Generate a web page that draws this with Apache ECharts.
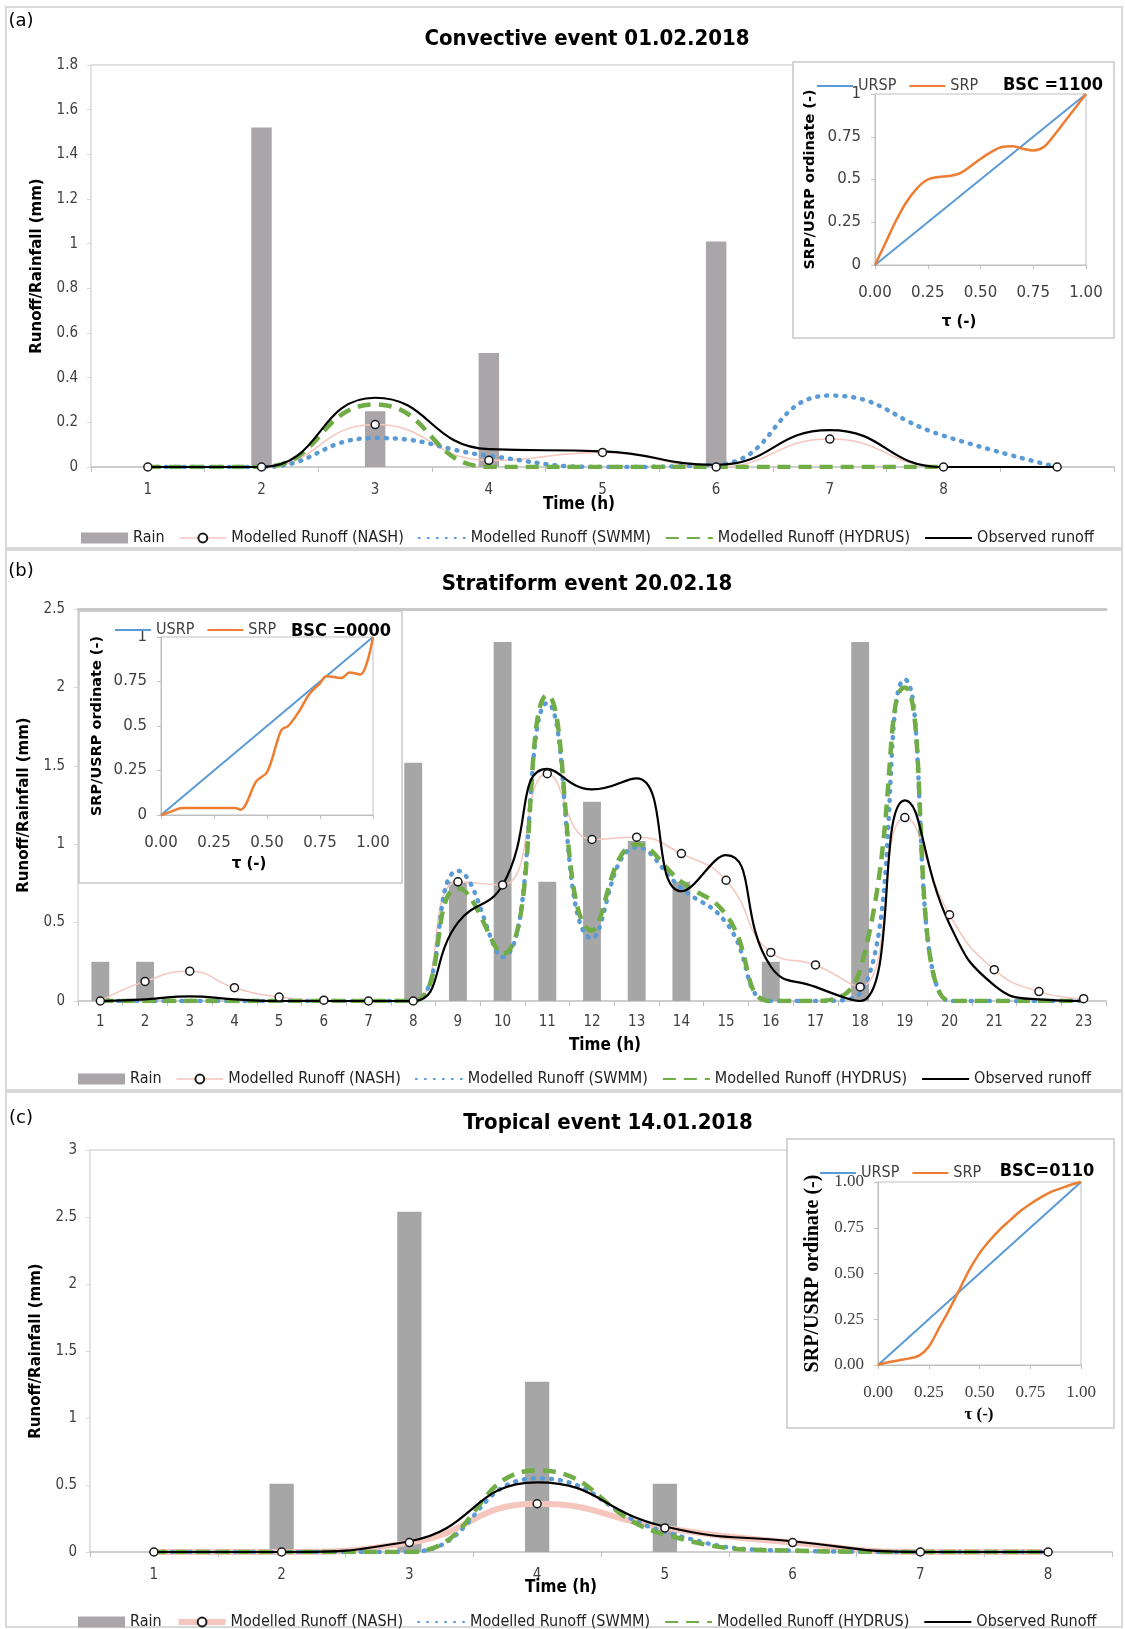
<!DOCTYPE html>
<html><head><meta charset="utf-8">
<script src="https://cdn.jsdelivr.net/npm/echarts@6/dist/echarts.min.js"></script>
<style>html,body{margin:0;padding:0;background:#fff}#c{width:1125px;height:1629px}</style>
</head><body><div id="c"></div>
<script>
// ---------- Panel (a): Convective event ----------
const hoursA = ['1','2','3','4','5','6','7','8',''];
const rainA   = [0,1.52,0.25,0.51,0,1.01,0,0,0];
const nashA   = [0,0,0.19,0.03,0.065,0,0.125,0,0];
const swmmA   = [0,0,0.13,0.05,0,0.01,0.32,0.14,0];
const hydrusA = [0,0,0.28,0,0,0,0,0,null];
const obsA    = [0,0,0.31,0.08,0.07,0.01,0.165,0,0];
const tauA = [0,0.05,0.1,0.15,0.2,0.25,0.3,0.35,0.4,0.45,0.5,0.55,0.6,0.65,0.7,0.75,0.8,0.85,0.9,0.95,1];
const srpA = [0,0.13,0.26,0.37,0.45,0.5,0.515,0.52,0.535,0.575,0.62,0.66,0.69,0.695,0.68,0.67,0.69,0.76,0.84,0.92,1];

// ---------- Panel (b): Stratiform event ----------
const hoursB = ['1','2','3','4','5','6','7','8','9','10','11','12','13','14','15','16','17','18','19','20','21','22','23'];
const rainB   = [0.25,0.25,0,0,0,0,0,1.52,0.76,2.29,0.76,1.27,1.02,0.76,0,0.25,0,2.29,0,0,0,0,0];
const nashB   = [0,0.125,0.19,0.085,0.025,0.005,0,0,0.76,0.74,1.45,1.03,1.045,0.94,0.77,0.31,0.23,0.09,1.17,0.55,0.2,0.06,0.015];
const swmmB   = [0,0,0,0,0,0,0,0,0.83,0.28,1.9,0.4,0.98,0.72,0.5,0,0,0.05,2.05,0,0,0,0];
const hydrusB = [0,0,0,0,0,0,0,0,0.72,0.3,1.95,0.45,1.0,0.76,0.55,0,0,0.2,2.0,0,0,0,0];
const obsB    = [0,0.01,0.03,0.01,0,0,0,0,0.5,0.74,1.48,1.35,1.42,0.7,0.93,0.22,0.09,0,1.28,0.49,0.1,0.01,0];
const tauB = [0,0.05,0.1,0.15,0.2,0.25,0.3,0.35,0.375,0.4,0.45,0.5,0.55,0.57,0.6,0.65,0.7,0.75,0.78,0.85,0.89,0.94,0.97,1];
const srpB = [0,0.02,0.04,0.04,0.04,0.04,0.04,0.04,0.03,0.06,0.19,0.24,0.42,0.48,0.5,0.58,0.68,0.74,0.78,0.77,0.8,0.79,0.85,1];

// ---------- Panel (c): Tropical event ----------
const hoursC = ['1','2','3','4','5','6','7','8'];
const rainC   = [0,0.51,2.54,1.27,0.51,0,0,0];
const nashC   = [0,0,0.07,0.36,0.18,0.07,0,0];
const swmmC   = [0,0,0,0.55,0.15,0.01,0,0];
const hydrusC = [0,0,0,0.61,0.13,0.01,0,0];
const obsC    = [0,0,0.08,0.52,0.19,0.08,0,0];
const tauC = [0,0.05,0.1,0.15,0.2,0.25,0.3,0.35,0.4,0.45,0.5,0.55,0.6,0.65,0.7,0.75,0.8,0.85,0.9,0.95,1];
const srpC = [0,0.015,0.025,0.035,0.05,0.1,0.2,0.3,0.41,0.52,0.61,0.68,0.74,0.79,0.84,0.88,0.915,0.945,0.965,0.985,1];

// uniform response (straight line end points)
const usrpTau = [0,1];
const usrpVal = [0,1];

const NARROW = "'Liberation Sans Narrow','Arial Narrow','DejaVu Sans Condensed',sans-serif";
const SANS = "'DejaVu Sans','Open Sans',sans-serif";
const SERIF = "'Liberation Serif','DejaVu Serif',serif";

const zip = (a,b) => a.map((v,i)=>[v,b[i]]);

const grids = [
  {left:91, top:65, width:1023, height:402},
  {left:875, top:94, width:211, height:171, show:true, borderColor:'#bfbfbf', borderWidth:1, z:4},
  {left:78, top:609, width:1028, height:392},
  {left:161, top:637, width:212, height:178, show:true, borderColor:'#bfbfbf', borderWidth:1, z:4},
  {left:90, top:1150, width:1022, height:402},
  {left:878, top:1182, width:203, height:183, show:true, borderColor:'#bfbfbf', borderWidth:1, z:4}
];

function catAxis(gi, cats, margin){
  return {type:'category', gridIndex:gi, data:cats, boundaryGap:true,
    axisLine:{lineStyle:{color:'#bfbfbf', width:1.5}},
    axisTick:{show:true, length:5, lineStyle:{color:'#bfbfbf'}},
    axisLabel:{margin:margin, fontSize:15, color:'#404040', fontFamily:NARROW, interval:0},
    splitLine:{show:false}};
}
function topAxis(gi, cats, w, col){
  return {type:'category', gridIndex:gi, data:cats, position:'top',
    axisLine:{show:true, lineStyle:{color:col, width:w}},
    axisTick:{show:false}, axisLabel:{show:false}, splitLine:{show:false}};
}
function insetX(gi, font, size, margin){
  return {type:'value', gridIndex:gi, min:0, max:1, interval:0.25, z:4,
    axisLine:{show:true, lineStyle:{color:'#bfbfbf'}},
    axisTick:{show:true, length:4, lineStyle:{color:'#bfbfbf'}},
    axisLabel:{margin:margin, fontSize:size, color:'#404040', fontFamily:font, formatter:v=>v.toFixed(2)},
    splitLine:{show:false}};
}
function insetY(gi, font, size, fixed, nameFont, nameSize, gap){
  return {type:'value', gridIndex:gi, min:0, max:1, interval:0.25, z:4,
    name:'SRP/USRP ordinate (-)', nameLocation:'middle', nameGap:gap,
    nameTextStyle:{fontFamily:nameFont, fontSize:nameSize, fontWeight:'bold', color:'#000'},
    axisLine:{show:true, lineStyle:{color:'#bfbfbf'}},
    axisTick:{show:true, length:4, lineStyle:{color:'#bfbfbf'}},
    axisLabel:{margin:14, fontSize:size, color:'#404040', fontFamily:font,
      formatter: v => fixed ? v.toFixed(2) : String(v)},
    splitLine:{show:false}};
}
function mainY(gi, max, intv){
  return {type:'value', gridIndex:gi, min:0, max:max, interval:intv,
    name:'Runoff/Rainfall (mm)', nameLocation:'middle', nameGap:46,
    nameTextStyle:{fontFamily:SANS, fontSize:15, fontWeight:'bold', color:'#000'},
    axisLine:{show:true, lineStyle:{color:'#d9d9d9', width:1.5}},
    axisTick:{show:true, length:4, lineStyle:{color:'#d9d9d9'}},
    axisLabel:{margin:13, fontSize:15, color:'#404040', fontFamily:NARROW,
      formatter: v => String(Math.round(v*10)/10)},
    splitLine:{show:false}};
}

function mainSeries(xi, yi, rain, nash, swmm, hydrus, obs, barW, rainCol, nashW, obsName){
  return [
    {type:'bar', name:'Rain', xAxisIndex:xi, yAxisIndex:yi, data:rain, barWidth:barW,
      itemStyle:{color:rainCol}, z:2},
    {type:'line', name:'Modelled Runoff (NASH)', xAxisIndex:xi, yAxisIndex:yi, data:nash, smooth:0.5,
      symbol:'circle', symbolSize:8, showAllSymbol:true,
      lineStyle:{color:'#f5c6bd', width:nashW},
      itemStyle:{color:'#ffffff', borderColor:'#1a1a1a', borderWidth:1.5}, z:2},
    {type:'line', name:'Modelled Runoff (SWMM)', xAxisIndex:xi, yAxisIndex:yi, data:swmm, smooth:0.5,
      symbol:'none', itemStyle:{color:'#5b9bd5'},
      lineStyle:{color:'#5b9bd5', width:4.5, type:[1,8], cap:'round'}, z:2},
    {type:'line', name:'Modelled Runoff (HYDRUS)', xAxisIndex:xi, yAxisIndex:yi, data:hydrus, smooth:0.5,
      symbol:'none', itemStyle:{color:'#70ad47'},
      lineStyle:{color:'#70ad47', width:4.5, type:[13,8]}, z:2},
    {type:'line', name:obsName, xAxisIndex:xi, yAxisIndex:yi, data:obs, smooth:0.5,
      symbol:'none', itemStyle:{color:'#000000'},
      lineStyle:{color:'#000000', width:2.2}, z:2}
  ];
}
function insetSeries(xi, yi, uname, tau, srp){
  return [
    {type:'line', name:uname, xAxisIndex:xi, yAxisIndex:yi, data:zip(usrpTau,usrpVal),
      symbol:'none', itemStyle:{color:'#5b9bd5'}, lineStyle:{color:'#5b9bd5', width:2}, z:5},
    {type:'line', name:'SRP', xAxisIndex:xi, yAxisIndex:yi, data:zip(tau,srp), smooth:0.35,
      symbol:'none', itemStyle:{color:'#ed7d31'}, lineStyle:{color:'#ed7d31', width:2.5}, z:5}
  ];
}

const noSym = {opacity:0};
function mainLegend(left, top, obsName, nashW){
  return {left:left, top:top, itemWidth:47, itemHeight:11, itemGap:14, z:6,
    textStyle:{fontFamily:NARROW, fontSize:16, color:'#222'},
    data:[{name:'Rain', icon:'rect'},
          {name:'Modelled Runoff (NASH)', lineStyle:{width:nashW}},
          {name:'Modelled Runoff (SWMM)', itemStyle:noSym},
          {name:'Modelled Runoff (HYDRUS)', itemStyle:noSym},
          {name:obsName, itemStyle:noSym}]};
}
function insetLegend(left, top, uname){
  return {left:left, top:top, itemWidth:36, itemHeight:10, itemGap:12, z:6,
    textStyle:{fontFamily:NARROW, fontSize:16, color:'#404040'},
    data:[{name:uname, itemStyle:noSym},{name:'SRP', itemStyle:noSym}]};
}

function txt(x,y,text,font,align){
  return {type:'text', x:x, y:y, z:7,
    style:{text:text, font:font, fill:'#000', align:align||'center', verticalAlign:'middle',
      textAlign:align||'center', textVerticalAlign:'middle'}};
}
function frame(x,y,w,h){
  return {type:'rect', shape:{x:x,y:y,width:w,height:h}, z:0, silent:true,
    style:{fill:'none', stroke:'#d9d9d9', lineWidth:2}};
}
function box(x,y,w,h){
  return {type:'rect', shape:{x:x,y:y,width:w,height:h}, z:3, silent:true,
    style:{fill:'#ffffff', stroke:'#c8c8c8', lineWidth:1.5}};
}

const option = {
  animation:false,
  backgroundColor:'#ffffff',
  grid: grids,
  xAxis:[
    catAxis(0,hoursA,16), topAxis(0,hoursA,1.5,'#d9d9d9'), insetX(1,SANS,15,21),
    catAxis(2,hoursB,14), topAxis(2,hoursB,3,'#c8c8c8'), insetX(3,SANS,15,21),
    catAxis(4,hoursC,16), topAxis(4,hoursC,1.5,'#d9d9d9'), insetX(5,SERIF,17,19)
  ],
  yAxis:[
    mainY(0,1.8,0.2), insetY(1,SANS,15,false,SANS,14.5,57),
    mainY(2,2.5,0.5), insetY(3,SANS,15,false,SANS,14.5,56),
    mainY(4,3,0.5), insetY(5,SERIF,17,true,SERIF,20,55)
  ],
  legend:[
    mainLegend(76,525,'Observed runoff',1.5),
    insetLegend(811,73,'URSP'),
    mainLegend(73,1066,'Observed runoff',1.5),
    insetLegend(109,617,'USRP'),
    mainLegend(73,1609,'Observed Runoff',6),
    insetLegend(814,1160,'URSP')
  ],
  series:[].concat(
    mainSeries(0,0,rainA,nashA,swmmA,hydrusA,obsA,'18%','#aaa5a8',1.5,'Observed runoff'),
    insetSeries(2,1,'URSP',tauA,srpA),
    mainSeries(3,2,rainB,nashB,swmmB,hydrusB,obsB,'40%','#a6a6a6',1.5,'Observed runoff'),
    insetSeries(5,3,'USRP',tauB,srpB),
    mainSeries(6,4,rainC,nashC,swmmC,hydrusC,obsC,'19%','#a6a6a6',6,'Observed Runoff'),
    insetSeries(8,5,'URSP',tauC,srpC)
  ),
  graphic:{elements:[
    frame(6,7,1116,541), frame(6,550,1116,540), frame(6,1092,1116,535),
    box(793,62,321,276), box(79,611,323,272), box(787,1139,327,289),
    txt(21,21,'(a)','18px '+SANS), txt(21,571,'(b)','18px '+SANS), txt(21,1118,'(c)','18px '+SANS),
    txt(587,39,'Convective event 01.02.2018','bold 22px '+NARROW),
    txt(587,584,'Stratiform event 20.02.18','bold 22px '+NARROW),
    txt(608,1123,'Tropical event 14.01.2018','bold 22px '+NARROW),
    txt(579,505,'Time (h)','bold 17px '+NARROW),
    txt(605,1046,'Time (h)','bold 17px '+NARROW),
    txt(561,1588,'Time (h)','bold 17px '+NARROW),
    txt(959,322,'τ (-)','bold 15px '+SANS),
    txt(249,864,'τ (-)','bold 15px '+SANS),
    txt(979,1415,'τ (-)','bold 17px '+SERIF),
    txt(1053,85,'BSC =1100','bold 18px '+NARROW),
    txt(341,631,'BSC =0000','bold 18px '+NARROW),
    txt(1047,1171,'BSC=0110','bold 18px '+NARROW)
  ]}
};
const chart = echarts.init(document.getElementById('c'), null, {renderer:'canvas'});
chart.setOption(option);
</script></body></html>
